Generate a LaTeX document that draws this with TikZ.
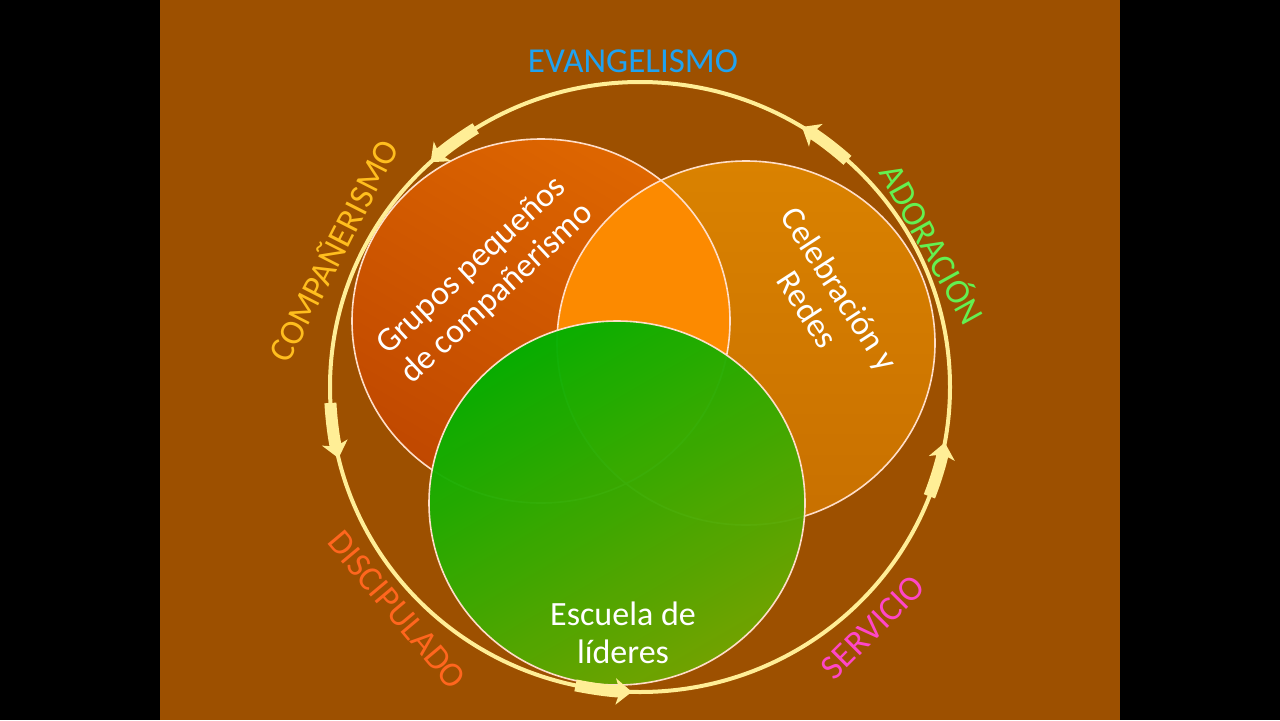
\documentclass[tikz,border=0pt]{standalone}
\usepackage{fontspec}
\setmainfont{Carlito}
\usepackage{tikz}
\usetikzlibrary{arrows.meta, calc}
\definecolor{slidebrown}{RGB}{157,80,0}
\definecolor{ringyellow}{RGB}{255,238,150}
\definecolor{rimwhite}{RGB}{255,222,200}
\definecolor{grupostop}{RGB}{222,102,0}
\definecolor{gruposbot}{RGB}{192,72,0}
\definecolor{celetop}{RGB}{218,130,0}
\definecolor{celebot}{RGB}{200,112,0}
\definecolor{overlaporange}{RGB}{252,138,0}
\definecolor{escuelatop}{RGB}{0,176,0}
\definecolor{escuelabot}{RGB}{112,166,0}
\definecolor{evanblue}{RGB}{32,162,240}
\definecolor{compyellow}{RGB}{255,190,30}
\definecolor{adorgreen}{RGB}{100,240,80}
\definecolor{discorange}{RGB}{255,102,30}
\definecolor{servpink}{RGB}{255,70,200}
\tikzset{
    ring/.style={draw=ringyellow, line width=2pt},
    flow/.style={draw=ringyellow, line width=6pt,
                 -{Stealth[length=8pt, width=13pt, inset=2pt]}},
    venn/.style={draw=rimwhite, line width=0.8pt},
    ringtext/.style={font=\fontsize{17.5}{20}\selectfont, inner sep=0pt},
    venntext/.style={white, align=center, inner sep=0pt,
                     font=\fontsize{17}{19}\selectfont}
}

\begin{document}
\begin{tikzpicture}[x=0.5pt, y=0.5pt]
    % Slide
    \fill[black] (0,0) rectangle (1280,720);
    \fill[slidebrown] (160,0) rectangle (1120,720);
    \useasboundingbox (0,0) rectangle (1280,720);

    % Centres
    \coordinate (ctr) at (640,333);
    \coordinate (grupos) at (541,399);
    \coordinate (cele) at (746,377);
    \coordinate (escuela) at (617,217);

    % Circles
    \shade[top color=grupostop, bottom color=gruposbot, shading angle=-30]
        (grupos) ellipse [x radius=189, y radius=182];
    \shade[top color=celetop, bottom color=celebot]
        (cele) ellipse [x radius=189, y radius=182];
    \begin{scope}
        \clip (grupos) ellipse [x radius=189, y radius=182];
        \fill[overlaporange] (cele) ellipse [x radius=189, y radius=182];
    \end{scope}
    \draw[venn] (grupos) ellipse [x radius=189, y radius=182];
    \draw[venn] (cele) ellipse [x radius=189, y radius=182];
    \shade[top color=escuelatop, bottom color=escuelabot, shading angle=30, opacity=0.96]
        (escuela) ellipse [x radius=188, y radius=182];
    \draw[venn] (escuela) ellipse [x radius=188, y radius=182];

    % Circle texts
    \node[venntext, rotate=43] (t1) at (485,440) {Grupos pequeños\\de compañerismo};
    \node[venntext, rotate=-57] (t2) at (824,421) {Celebración y\\Redes};
    \node[venntext] (t3) at (623,87) {Escuela de\\líderes};

    % Ring
    \draw[ring] (ctr) ellipse [x radius=310, y radius=305];
    \foreach \a in {48,122,183,258,339}
        \draw[flow] ($(ctr)+(\a:310 and 305)$)
            arc [start angle=\a, delta angle=10.5, x radius=310, y radius=305];

    % Ring texts
    \node[ringtext, evanblue] (evan) at (633,659) {EVANGELISMO};
    \node[ringtext, compyellow, rotate=63] (comp) at (332,470) {COMPAÑERISMO};
    \node[ringtext, adorgreen, rotate=-61] (ador) at (934,477) {ADORACIÓN};
    \node[ringtext, discorange, rotate=-50] (disc) at (397,110) {DISCIPULADO};
    \node[ringtext, servpink, rotate=45] (serv) at (873,93) {SERVICIO};
\end{tikzpicture}
\end{document}
